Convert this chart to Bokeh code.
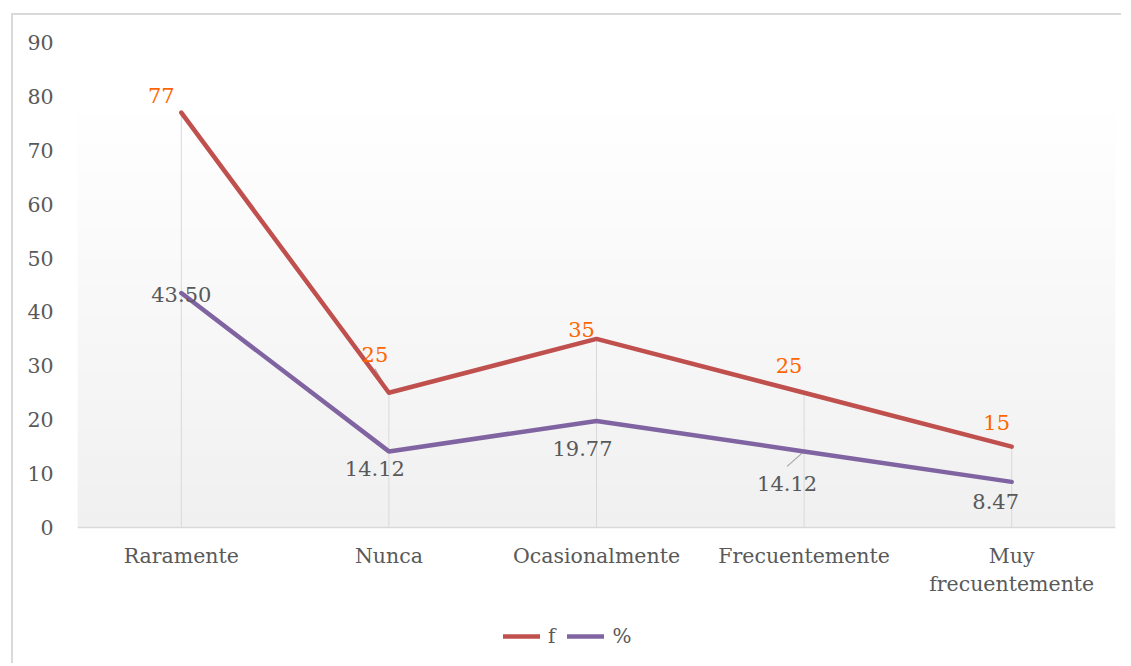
import numpy as np
from bokeh.plotting import figure
from bokeh.models import ColumnDataSource, Range1d, FixedTicker, Legend, LegendItem
from bokeh.core.properties import value
from bokeh.embed import file_html
from bokeh.resources import INLINE

# ---- data ----
categories = ["Raramente", "Nunca", "Ocasionalmente", "Frecuentemente", "Muy frecuentemente"]
f_values = [77, 25, 35, 25, 15]
pct_values = [43.50, 14.12, 19.77, 14.12, 8.47]
f_labels = ["77", "25", "35", "25", "15"]
pct_labels = ["43.50", "14.12", "19.77", "14.12", "8.47"]
y_ticks = [0, 10, 20, 30, 40, 50, 60, 70, 80, 90]
x_tick_labels = ["Raramente", "Nunca", "Ocasionalmente", "Frecuentemente", "Muy\nfrecuentemente"]

# ---- styling ----
FONT = "DejaVu Serif"
TXT = "#595959"
RED = "#C0504D"
PURPLE = "#8064A2"
ORANGE = "#FF6600"

FW, PLOT_H = 1038, 485          # width / height of the value area (0..90)
EXTRA = 136                      # white space below the value area (axis labels + legend)
BL, BR, BT = 64, 6, 27
YMAX = 90
XMIN, XMAX = -0.5, len(categories) - 0.5
px_x = FW / (XMAX - XMIN)
px_y = PLOT_H / YMAX
YMIN = -EXTRA / px_y

# label offsets in screen pixels (styling)
f_dx = [-20, -14, -15, -15, -15]
f_dy = [-17, -38, -9, -27, -24]
p_dx = [0, -14, -14, -17, -16]
p_dy = [1, 17, 28, 32, 20]

xs = list(range(len(categories)))

p = figure(frame_width=FW, frame_height=PLOT_H + EXTRA, output_backend="svg", toolbar_location=None,
           x_range=Range1d(XMIN, XMAX), y_range=Range1d(YMIN, YMAX),
           min_border_left=BL, min_border_right=BR, min_border_top=BT, min_border_bottom=0)
p.styles = {"margin-left": "11px", "margin-top": "13px",
            "border-left": "2px solid #d9d9d9", "border-top": "2px solid #d9d9d9"}
p.outline_line_color = None
p.background_fill_color = "white"
p.border_fill_color = "white"
p.xgrid.visible = False
p.ygrid.visible = False

# gradient background of plot area
N = 450
img = np.zeros((N, 1), dtype=np.uint32)
view = img.view(dtype=np.uint8).reshape((N, 1, 4))
for i in range(N):
    yv = (i + 0.5) / N * YMAX
    g = 255 if yv > 79 else int(round(255 - (79 - yv) / 79 * 15))
    view[i, 0, 0] = g
    view[i, 0, 1] = g
    view[i, 0, 2] = g
    view[i, 0, 3] = 255
p.image_rgba(image=[img], x=XMIN, y=0, dw=XMAX - XMIN, dh=YMAX)

# drop lines
tops = [max(a, b) for a, b in zip(f_values, pct_values)]
p.segment(x0=xs, y0=[0] * len(xs), x1=xs, y1=tops, line_color="#d9d9d9", line_width=1)

# leader lines (from label to point)
lead_x0 = [xs[1] + (-14) / px_x, xs[3] + (-17) / px_x]
lead_y0 = [f_values[1] - (-24) / px_y, pct_values[3] - (15) / px_y]
lead_x1 = [xs[1], xs[3]]
lead_y1 = [f_values[1], pct_values[3]]
p.segment(x0=lead_x0, y0=lead_y0, x1=lead_x1, y1=lead_y1, line_color="#a6a6a6", line_width=1.2)

# lines
r_f = p.line(xs, f_values, line_color=RED, line_width=4.5, line_cap="round", line_join="round")
r_p = p.line(xs, pct_values, line_color=PURPLE, line_width=4.5, line_cap="round", line_join="round")

# data labels
src_f = ColumnDataSource(dict(x=xs, y=f_values, t=f_labels, dx=f_dx, dy=f_dy))
src_p = ColumnDataSource(dict(x=xs, y=pct_values, t=pct_labels, dx=p_dx, dy=p_dy))
p.text(x="x", y="y", text="t", x_offset="dx", y_offset="dy", source=src_f,
       text_font=value(FONT), text_font_size="21px", text_color=ORANGE,
       text_align="center", text_baseline="middle")
p.text(x="x", y="y", text="t", x_offset="dx", y_offset="dy", source=src_p,
       text_font=value(FONT), text_font_size="21px", text_color=TXT,
       text_align="center", text_baseline="middle")

# axes
p.xaxis.fixed_location = 0
p.xaxis.ticker = FixedTicker(ticks=xs)
p.xaxis.major_label_overrides = {i: lab for i, lab in enumerate(x_tick_labels)}
p.xaxis.axis_line_color = "#d9d9d9"
p.xaxis.axis_line_width = 1.5
p.xaxis.major_tick_line_color = None
p.xaxis.minor_tick_line_color = None
p.xaxis.major_tick_out = 0
p.xaxis.major_tick_in = 0
p.xaxis.major_label_standoff = 16
p.xaxis.major_label_text_font = FONT
p.xaxis.major_label_text_font_size = "20.5px"
p.xaxis.major_label_text_color = TXT
p.xaxis.major_label_text_line_height = 1.2

p.yaxis.ticker = FixedTicker(ticks=y_ticks)
p.yaxis.axis_line_color = None
p.yaxis.major_tick_line_color = None
p.yaxis.minor_tick_line_color = None
p.yaxis.major_tick_out = 0
p.yaxis.major_tick_in = 0
p.yaxis.major_label_standoff = 24
p.yaxis.major_label_text_font = FONT
p.yaxis.major_label_text_font_size = "20.5px"
p.yaxis.major_label_text_color = TXT

legend = Legend(items=[LegendItem(label="f", renderers=[r_f]),
                       LegendItem(label="%", renderers=[r_p])],
                orientation="horizontal", location=(426, 15),
                glyph_width=37, glyph_height=20, label_standoff=8, spacing=12,
                padding=0, margin=0, label_width=0, label_height=20,
                border_line_color=None, background_fill_alpha=0,
                label_text_font=FONT, label_text_font_size="20px", label_text_color=TXT)
p.add_layout(legend)

open("out.html", "w").write(file_html(p, INLINE))
